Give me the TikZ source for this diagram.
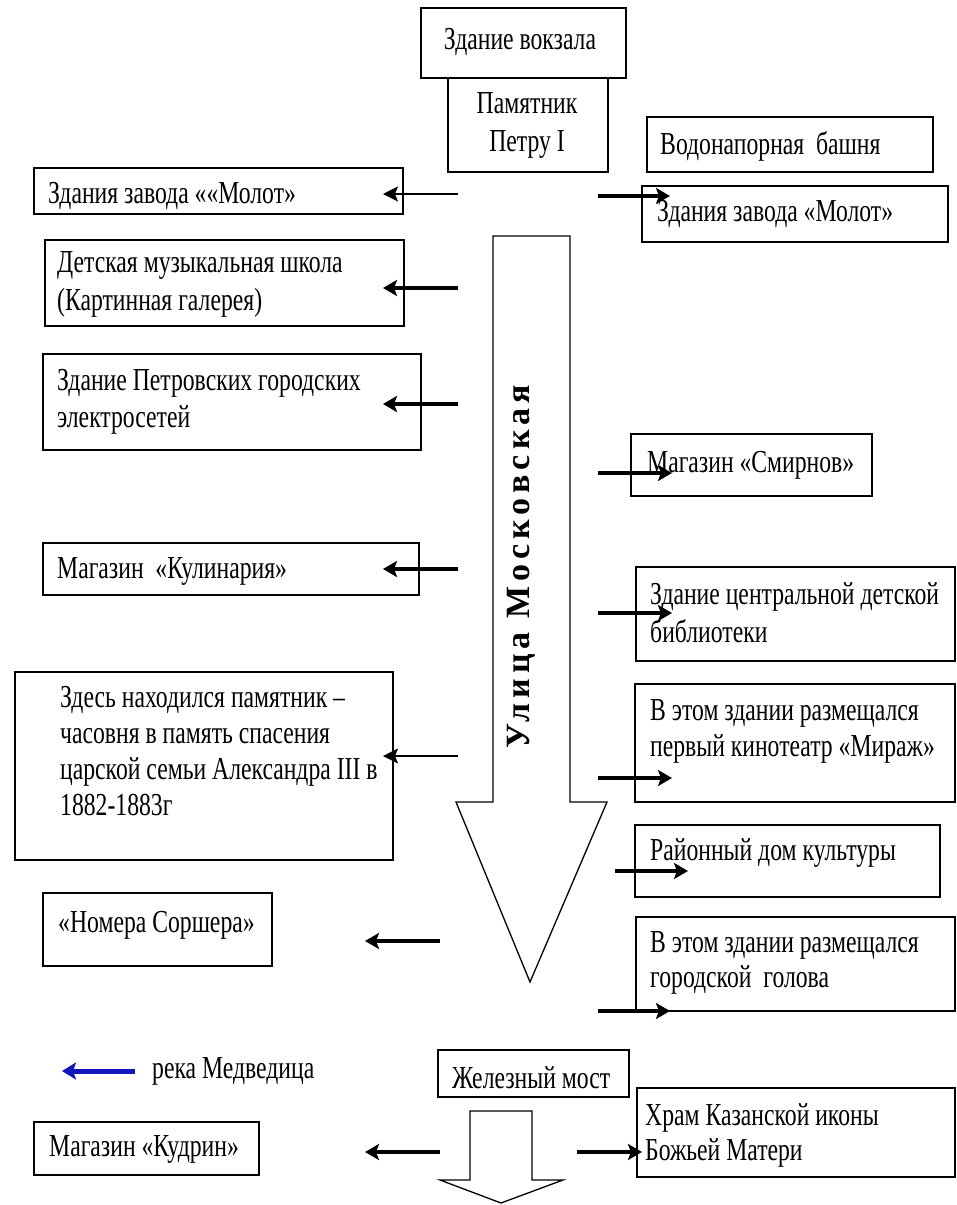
\documentclass[tikz,border=0pt]{standalone}
\usepackage{fontspec}
\setmainfont{Liberation Serif}[FakeStretch=0.74]
\newfontfamily\streetfont{Liberation Serif}[LetterSpace=15]
\usetikzlibrary{arrows.meta,fit}
\definecolor{riverblue}{RGB}{20,20,190}
\newcommand{\boxfnt}[1]{\fontsize{32}{#1}\selectfont\lineskiplimit=-50pt\relax}
\begin{document}
\begin{tikzpicture}[x=1pt,y=-1pt,
  box/.style={draw, line width=1.8pt, inner sep=0pt},
  txt/.style={inner sep=0pt, anchor=west, align=left, font={\boxfnt{#1}}},
  txt/.default=37,
  ctxt/.style={inner sep=0pt, anchor=center, align=center, font={\boxfnt{#1}}},
  ctxt/.default=37,
  thinarrow/.style={line width=1.5pt, -{Stealth[length=15pt,width=15pt,inset=3pt]}},
  thickarrow/.style={line width=3.6pt, -{Stealth[length=14pt,width=16pt,inset=3pt]}},
  riverarrow/.style={riverblue, line width=5pt, -{Stealth[length=14pt,width=17pt,inset=3pt]}},
  streetshape/.style={draw, line width=1.3pt, line join=miter},
]
\useasboundingbox (0,0) rectangle (957,1205);

% boxes
\node[box, fit={(421,8)(626,78)}] (vokzal) {};
\node[box, fit={(448,78)(608,172)}] (pam) {};
\node[box, fit={(647,117)(933,172)}] (vodo) {};
\node[box, fit={(642,186)(948,242)}] (molotR) {};
\node[box, fit={(34,168)(403,214)}] (molotL) {};
\node[box, fit={(45,240)(404,326)}] (music) {};
\node[box, fit={(43,354)(421,450)}] (petr) {};
\node[box, fit={(43,543)(419,595)}] (kulin) {};
\node[box, fit={(15,672)(393,860)}] (zdes) {};
\node[box, fit={(43,893)(272,966)}] (nomera) {};
\node[box, fit={(34,1122)(259,1175)}] (kudrin) {};
\node[box, fit={(438,1050)(629,1097)}] (most) {};
\node[box, fit={(637,1088)(955,1177)}] (hram) {};
\node[box, fit={(631,434)(872,496)}] (smirnov) {};
\node[box, fit={(636,567)(955,661)}] (biblio) {};
\node[box, fit={(635,684)(955,802)}] (mirage) {};
\node[box, fit={(635,825)(940,897)}] (rayon) {};
\node[box, fit={(636,917)(955,1011)}] (golova) {};

% texts
\node[ctxt] (tvokzal) at (520,42) {Здание вокзала};
\node[ctxt=38] (tpam) at (527,125) {Памятник\\Петру I};
\node[txt] (tvodo) at (660,146) {Водонапорная~ башня};
\node[txt] (tmolotR) at (657,214) {Здания завода «Молот»};
\node[txt] (tmolotL) at (48,196) {Здания завода ««Молот»};
\node[txt=38] (tmusic) at (57,284) {Детская музыкальная школа\\(Картинная галерея)};
\node[txt=37] (tpetr) at (57,402) {Здание Петровских городских\\электросетей};
\node[txt] (tkulin) at (57,571) {Магазин~ «Кулинария»};
\node[txt=36] (tzdes) at (60,751) {Здесь находился памятник –\\часовня в память спасения\\царской семьи Александра III в\\1882-1883г};
\node[txt] (tnomera) at (58,925) {«Номера Соршера»};
\node[txt] (treka) at (152,1071) {река Медведица};
\node[txt] (tkudrin) at (49,1149) {Магазин «Кудрин»};
\node[txt] (tmost) at (452,1078) {Железный мост};
\node[txt=35] (thram) at (645,1135) {Храм Казанской иконы\\Божьей Матери};
\node[txt] (tsmirnov) at (647,465) {Магазин «Смирнов»};
\node[txt=38] (tbiblio) at (650,613) {Здание центральной детской\\библиотеки};
\node[txt=36] (tmirage) at (650,731) {В этом здании размещался\\первый кинотеатр «Мираж»};
\node[txt] (trayon) at (650,853) {Районный дом культуры};
\node[txt=35] (tgolova) at (650,963) {В этом здании размещался\\городской~ голова};

% street arrow
\draw[streetshape] (493,236) -- (570,236) -- (570,802) -- (607,802) -- (530,982)
  -- (456,802) -- (493,802) -- cycle;
\node[rotate=90, inner sep=0pt, font={\streetfont\bfseries\fontsize{34}{40}\selectfont}]
  (street) at (521,567) {Улица Московская};

% bridge arrow
\draw[streetshape] (470,1111) -- (532,1111) -- (532,1180) -- (563,1180) -- (501,1203)
  -- (440,1180) -- (470,1180) -- cycle;

% connector coordinates
\coordinate (a1s) at (458,194); \coordinate (a1e) at (383,194);
\coordinate (a2s) at (458,288); \coordinate (a2e) at (383,288);
\coordinate (a3s) at (458,404); \coordinate (a3e) at (383,404);
\coordinate (a4s) at (458,569); \coordinate (a4e) at (383,569);
\coordinate (a5s) at (458,756); \coordinate (a5e) at (383,756);
\coordinate (a6s) at (440,941); \coordinate (a6e) at (365,941);
\coordinate (a7s) at (440,1152); \coordinate (a7e) at (365,1152);
\coordinate (b1s) at (598,196); \coordinate (b1e) at (670,196);
\coordinate (b2s) at (598,473); \coordinate (b2e) at (672,473);
\coordinate (b3s) at (598,613); \coordinate (b3e) at (672,613);
\coordinate (b4s) at (598,778); \coordinate (b4e) at (672,778);
\coordinate (b5s) at (615,871); \coordinate (b5e) at (688,871);
\coordinate (b6s) at (598,1011); \coordinate (b6e) at (670,1011);
\coordinate (b7s) at (577,1152); \coordinate (b7e) at (642,1152);
\coordinate (rs) at (135,1071); \coordinate (re) at (62,1071);

\draw[thinarrow] (a1s) -- (a1e);
\draw[thickarrow] (a2s) -- (a2e);
\draw[thickarrow] (a3s) -- (a3e);
\draw[thickarrow] (a4s) -- (a4e);
\draw[thinarrow] (a5s) -- (a5e);
\draw[thickarrow] (a6s) -- (a6e);
\draw[thickarrow] (a7s) -- (a7e);
\draw[thickarrow] (b1s) -- (b1e);
\draw[thickarrow] (b2s) -- (b2e);
\draw[thickarrow] (b3s) -- (b3e);
\draw[thickarrow] (b4s) -- (b4e);
\draw[thickarrow] (b5s) -- (b5e);
\draw[thickarrow] (b6s) -- (b6e);
\draw[thickarrow] (b7s) -- (b7e);
\draw[riverarrow] (rs) -- (re);
\end{tikzpicture}
\end{document}
